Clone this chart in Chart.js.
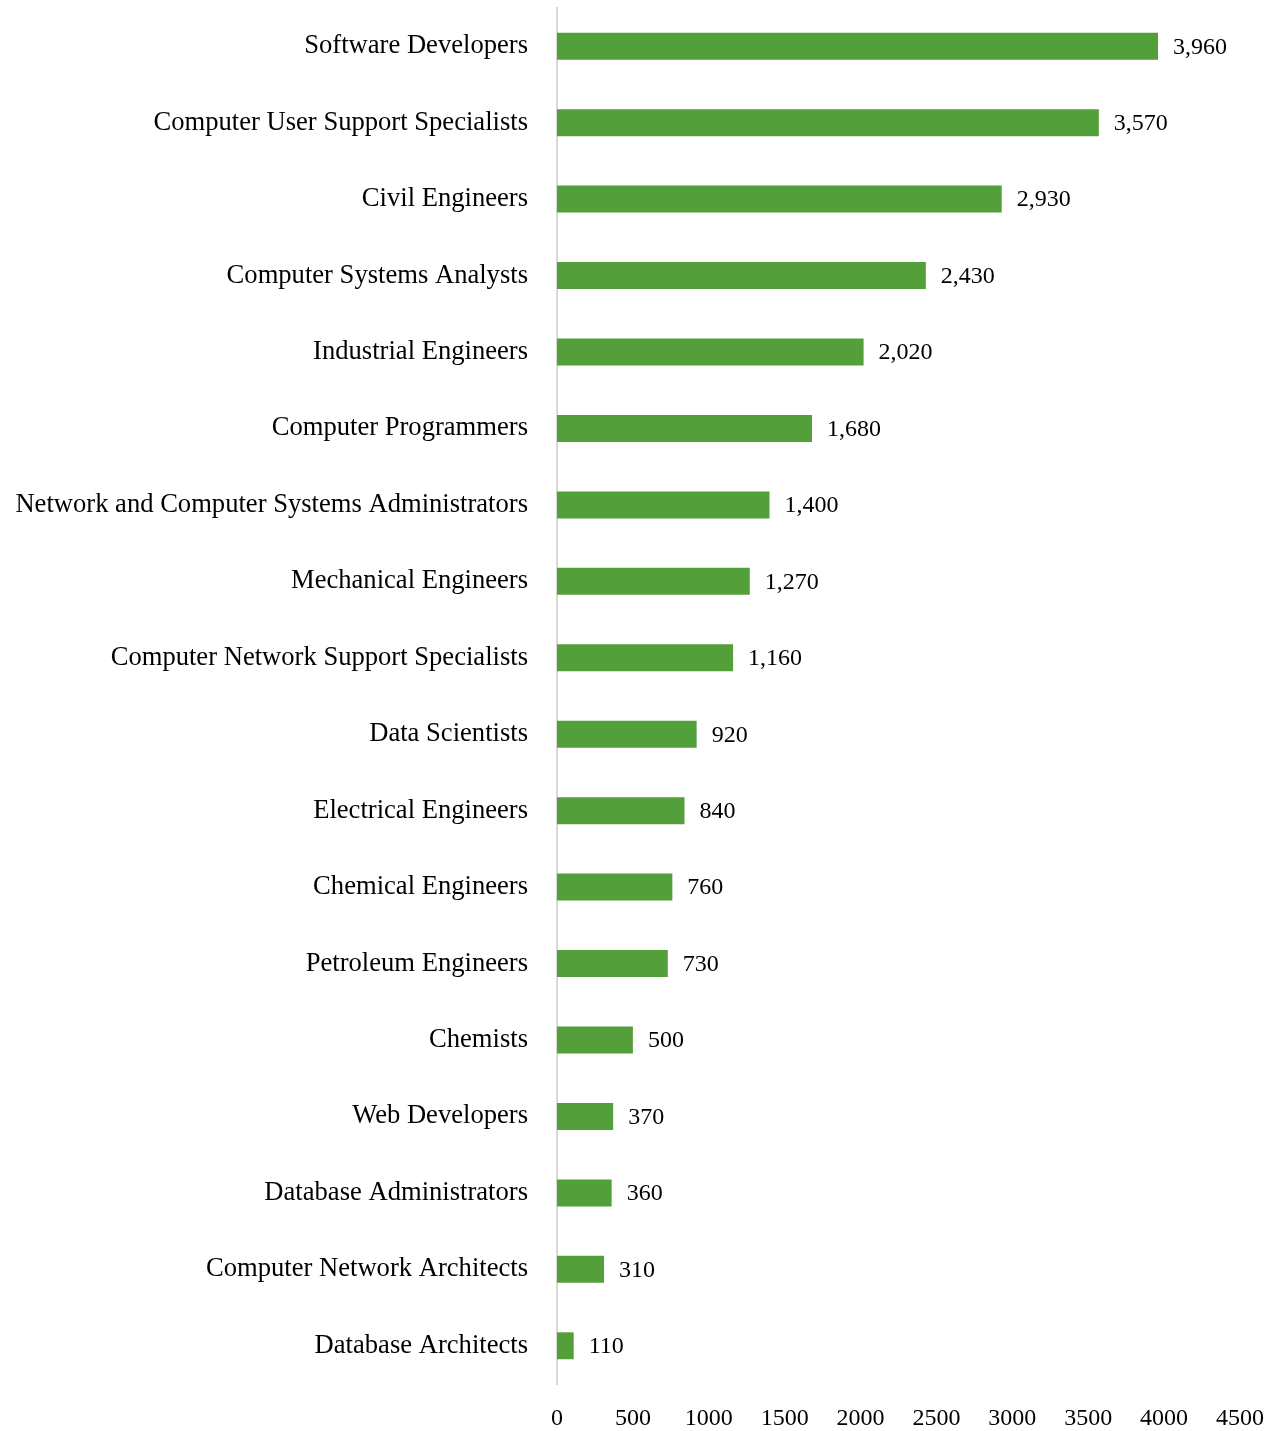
<!DOCTYPE html>
<html>
<head>
<meta charset="utf-8">
<script src="https://cdn.jsdelivr.net/npm/chart.js@4.4.1/dist/chart.umd.min.js"></script>
<style>
html,body{margin:0;padding:0;background:#fff;}
#wrap{width:1275px;height:1431px;position:relative;}
</style>
</head>
<body>
<div id="wrap"><canvas id="c" width="1275" height="1431"></canvas></div>
<script>
const categories = [
  "Software Developers",
  "Computer User Support Specialists",
  "Civil Engineers",
  "Computer Systems Analysts",
  "Industrial Engineers",
  "Computer Programmers",
  "Network and Computer Systems Administrators",
  "Mechanical Engineers",
  "Computer Network Support Specialists",
  "Data Scientists",
  "Electrical Engineers",
  "Chemical Engineers",
  "Petroleum Engineers",
  "Chemists",
  "Web Developers",
  "Database Administrators",
  "Computer Network Architects",
  "Database Architects"
];
const values = [3960, 3570, 2930, 2430, 2020, 1680, 1400, 1270, 1160, 920, 840, 760, 730, 500, 370, 360, 310, 110];
const xTicks = [0, 500, 1000, 1500, 2000, 2500, 3000, 3500, 4000, 4500];

const FONT = "'Liberation Serif', 'Times New Roman', serif";

const valueLabels = {
  id: 'valueLabels',
  afterDatasetsDraw(chart) {
    const ctx = chart.ctx;
    const meta = chart.getDatasetMeta(0);
    ctx.save();
    ctx.font = "24px " + FONT;
    ctx.fillStyle = "#000";
    ctx.textBaseline = "middle";
    ctx.textAlign = "left";
    meta.data.forEach((bar, i) => {
      ctx.fillText(values[i].toLocaleString('en-US'), bar.x + 15, bar.y + 1);
    });
    ctx.restore();
  }
};

new Chart(document.getElementById('c'), {
  type: 'bar',
  data: {
    labels: categories,
    datasets: [{
      data: values,
      backgroundColor: '#539f3a',
      borderWidth: 0,
      barPercentage: 0.353,
      categoryPercentage: 1
    }]
  },
  options: {
    indexAxis: 'y',
    responsive: false,
    animation: false,
    devicePixelRatio: 1,
    layout: { padding: { top: 8, right: 35, left: 0, bottom: 0 } },
    plugins: { legend: { display: false }, tooltip: { enabled: false } },
    scales: {
      x: {
        min: 0, max: 4500,
        afterBuildTicks(scale) { scale.ticks = xTicks.map(v => ({ value: v })); },
        afterFit(scale) { scale.height = 47; scale.paddingLeft = 0; scale.paddingRight = 0; scale.paddingTop = 0; scale.paddingBottom = 0; },
        grid: { display: false, drawTicks: false },
        border: { display: false },
        ticks: { color: '#000', font: { family: FONT, size: 24 }, padding: 20, maxRotation: 0, minRotation: 0, autoSkip: false,
          callback: (v) => String(v) }
      },
      y: {
        afterFit(scale) { scale.width = 557; scale.paddingTop = 0; scale.paddingBottom = 0; scale.paddingLeft = 0; scale.paddingRight = 0; },
        grid: { display: false, drawTicks: false },
        border: { display: true, color: '#d9d9d9', width: 2 },
        ticks: { color: '#000', font: { family: FONT, size: 26.6 }, padding: 29, autoSkip: false }
      }
    }
  },
  plugins: [valueLabels]
});
</script>
</body>
</html>
